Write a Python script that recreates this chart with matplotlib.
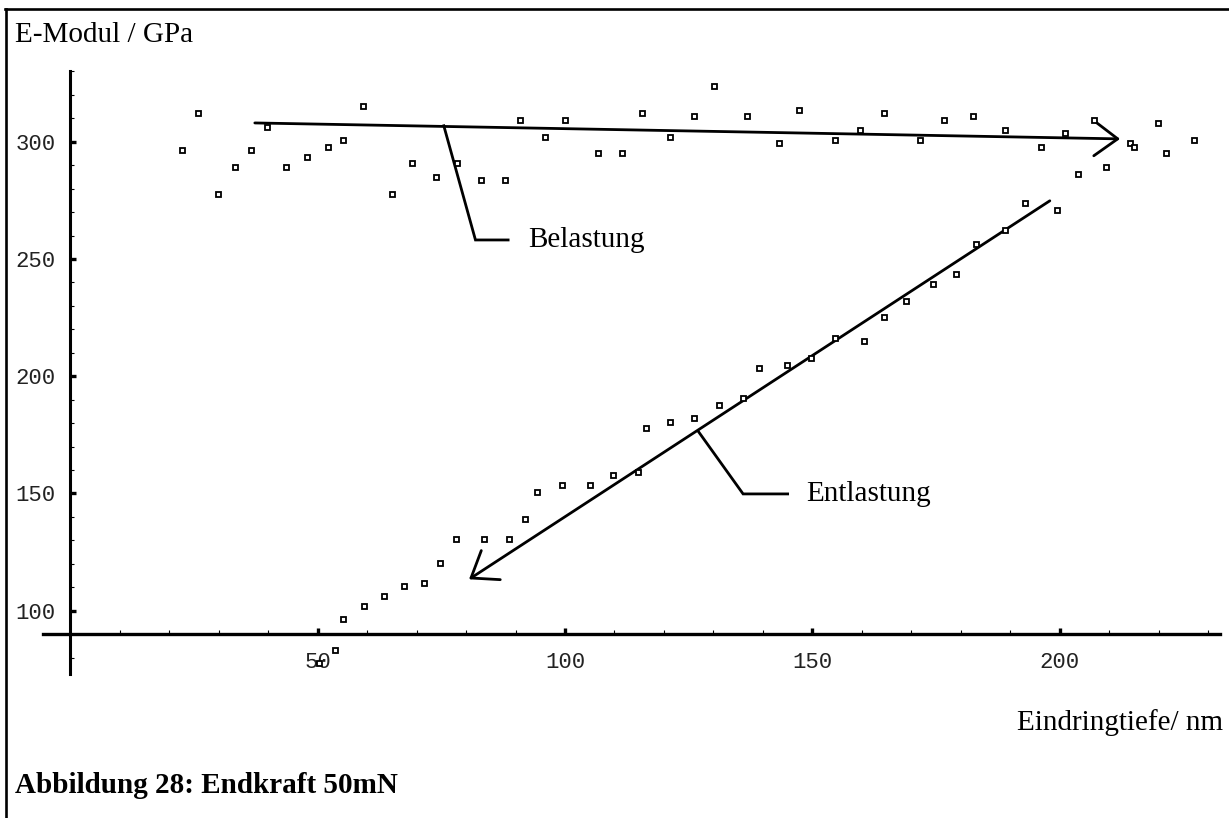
import matplotlib.pyplot as plt
from matplotlib.lines import Line2D

# loading curve (Belastung)
load_depth = [22.6, 25.9, 29.9, 33.2, 36.5, 39.7, 43.7, 47.8, 52.0, 55.2,
              59.2, 65.0, 69.1, 73.9, 78.1, 83.0, 87.8, 91.0, 96.0, 100.0,
              106.6, 111.5, 115.5, 121.2, 126.1, 130.2, 136.7, 143.3, 147.3, 154.6,
              159.6, 164.4, 171.8, 176.7, 182.4, 188.9, 196.2, 201.1, 206.9, 214.2,
              215.0, 219.9, 221.5, 227.2]
load_modul = [296.5, 312.2, 277.8, 289.3, 296.5, 306.4, 289.3, 293.6, 297.9, 300.7,
              315.2, 277.8, 290.8, 285.1, 290.8, 283.7, 283.7, 309.4, 302.1, 309.4,
              295.0, 295.0, 312.2, 302.1, 310.8, 323.8, 310.8, 299.3, 313.6, 300.7,
              305.0, 312.2, 300.7, 309.4, 310.8, 305.0, 297.9, 303.6, 309.4, 299.3,
              297.9, 308.0, 295.0, 300.7]

# unloading curve (Entlastung)
unload_depth = [50.3, 53.6, 55.2, 59.3, 63.4, 67.4, 71.5, 74.8, 78.0, 83.7,
                88.6, 91.9, 94.3, 99.3, 105.0, 109.8, 114.7, 116.4, 121.2, 126.1,
                131.1, 135.9, 139.2, 144.9, 149.7, 154.6, 160.4, 164.4, 168.9, 174.3,
                179.1, 183.1, 188.9, 193.0, 199.5, 203.6, 209.3]
unload_modul = [77.6, 83.4, 96.3, 102.0, 106.3, 110.5, 111.9, 120.5, 130.6, 130.6,
                130.6, 139.1, 150.6, 153.5, 153.6, 157.9, 159.3, 177.8, 180.6, 182.0,
                187.7, 190.7, 203.5, 204.9, 207.8, 216.4, 215.0, 225.1, 232.1, 239.3,
                243.6, 256.4, 262.2, 273.7, 270.8, 286.4, 289.3]

# ticks
x_major = [50, 100, 150, 200]
x_minor = [10, 20, 30, 40, 60, 70, 80, 90, 110, 120, 130, 140, 160, 170, 180, 190, 210, 220, 230]
y_major = [100, 150, 200, 250, 300]
y_minor = [80, 110, 120, 130, 140, 160, 170, 180, 190, 210, 220, 230, 240, 260, 270, 280, 290, 310, 320, 330]

# annotation arrows and callouts (data coords)
load_arrow = [(37.3, 308.0), (212.2, 301.2)]
unload_arrow = [(198.0, 274.8), (80.6, 113.4)]
load_callout_x = [75.5, 81.9, 88.5]
load_callout_y = [306.8, 258.1, 258.1]
unload_callout_x = [126.9, 136.0, 145.0]
unload_callout_y = [176.6, 149.8, 149.8]

serif = 'Liberation Serif'
mono = 'Liberation Mono'

fig = plt.figure(figsize=(12.29, 8.18), dpi=100)
ax = fig.add_axes([0, 0, 1, 1])
ax.set_xlim(-14.21, 234.22)
ax.set_ylim(11.6, 360.43)
ax.patch.set_visible(False)

# axes crossing at (0, 90) like the Mathematica original
for side in ['top', 'right']:
    ax.spines[side].set_visible(False)
ax.spines['left'].set_position(('data', 0))
ax.spines['bottom'].set_position(('data', 90))
ax.spines['left'].set_bounds(73, 330)
ax.spines['bottom'].set_bounds(-5.5, 232.5)
ax.spines['left'].set_linewidth(2.2)
ax.spines['bottom'].set_linewidth(2.4)

ax.set_xticks(x_major)
ax.set_xticks(x_minor, minor=True)
ax.set_yticks(y_major)
ax.set_yticks(y_minor, minor=True)
ax.tick_params(which='major', direction='in', length=4, width=2.4)
ax.tick_params(which='minor', direction='in', length=2.6, width=0.8)
ax.tick_params(axis='x', which='major', pad=12.5)
ax.tick_params(axis='y', which='major', pad=10.5)
for lab in ax.get_xticklabels() + ax.get_yticklabels():
    lab.set_fontfamily(mono)
    lab.set_fontsize(16)
    lab.set_color('#222222')

# data points
ax.plot(load_depth, load_modul, 's', ms=3.6, mfc='white', mec='black', mew=1.3,
        clip_on=False, zorder=5)
ax.plot(unload_depth, unload_modul, 's', ms=3.6, mfc='white', mec='black', mew=1.3,
        clip_on=False, zorder=5)

# arrows
arrow_props = dict(arrowstyle='->,head_length=1.7,head_width=1.25', lw=2.0,
                   color='black', shrinkA=0, shrinkB=0, mutation_scale=10)
ax.annotate('', xy=load_arrow[1], xytext=load_arrow[0], arrowprops=arrow_props)
ax.annotate('', xy=unload_arrow[1], xytext=unload_arrow[0], arrowprops=arrow_props)

# callouts
ax.plot(load_callout_x, load_callout_y, color='black', lw=2.0, solid_joinstyle='miter')
ax.plot(unload_callout_x, unload_callout_y, color='black', lw=2.0, solid_joinstyle='miter')
ax.text(92.6, load_callout_y[-1], 'Belastung', family=serif, fontsize=21, va='center', ha='left')
ax.text(148.7, unload_callout_y[-1], 'Entlastung', family=serif, fontsize=21, va='center', ha='left')

# labels
fig.text(15 / 1229, 1 - 41.7 / 818, 'E-Modul / GPa', family=serif, fontsize=21, va='baseline')
fig.text(1223 / 1229, 1 - 730 / 818, 'Eindringtiefe/ nm', family=serif, fontsize=21,
         va='baseline', ha='right')
fig.text(15 / 1229, 1 - 793.3 / 818, 'Abbildung 28: Endkraft 50mN', family=serif,
         fontsize=21, fontweight='bold', va='baseline')

# frame around the figure
fig.add_artist(Line2D([6 / 1229, 6 / 1229], [0, 1 - 9 / 818], color='black', lw=1.9))
fig.add_artist(Line2D([5 / 1229, 1], [1 - 9 / 818, 1 - 9 / 818], color='black', lw=1.9))

plt.savefig('out.png', dpi=100)
